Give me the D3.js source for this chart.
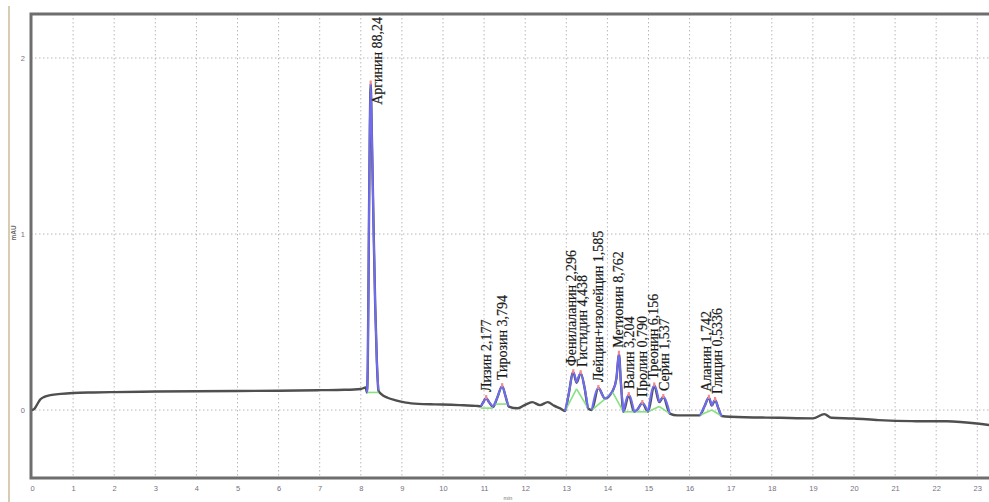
<!DOCTYPE html>
<html>
<head>
<meta charset="utf-8">
<script src="https://cdn.jsdelivr.net/npm/d3@7"></script>
<style>
  body { margin: 0; background: #fff; }
  svg { display: block; }
</style>
</head>
<body>
<svg id="chart"></svg>
<script>
// chromatogram trace, minutes / mAU
var times = [0.00, 0.05, 0.12, 0.20, 0.30, 0.45, 0.70, 1.00, 1.50, 2.00, 3.00, 4.00, 5.00, 6.00, 7.00, 7.60, 8.00, 8.12,
  8.15, 8.17, 8.20, 8.22, 8.24, 8.27, 8.31, 8.35, 8.39, 8.43,
  8.50, 8.65, 8.85, 9.10, 9.40, 9.80, 10.20, 10.50, 10.80, 10.92,
  10.98, 11.05, 11.12, 11.22, 11.32, 11.44, 11.52, 11.60,
  11.82, 12.00, 12.17, 12.36, 12.55, 12.70, 12.85, 12.97,
  13.05, 13.17, 13.25, 13.35, 13.45, 13.53, 13.62, 13.78, 13.94, 14.13, 14.22, 14.28, 14.33, 14.39,
  14.52, 14.65, 14.72, 14.85, 14.99, 15.14, 15.26, 15.36, 15.52,
  15.70, 16.00, 16.25, 16.36, 16.47, 16.54, 16.62, 16.70, 16.78,
  17.00, 18.20, 19.00, 19.28, 19.45, 20.00, 20.60, 21.40, 22.25, 23.05, 23.30];
var signal = [0.000, 0.005, 0.030, 0.060, 0.075, 0.085, 0.092, 0.097, 0.100, 0.102, 0.105, 0.107, 0.108, 0.110, 0.113, 0.115, 0.120, 0.128,
  0.100, 0.250, 1.100, 1.600, 1.855, 1.550, 1.050, 0.600, 0.280, 0.110,
  0.090, 0.070, 0.055, 0.042, 0.035, 0.032, 0.030, 0.027, 0.024, 0.022,
  0.045, 0.068, 0.045, 0.018, 0.070, 0.136, 0.080, 0.020,
  0.010, 0.030, 0.045, 0.028, 0.045, 0.025, 0.010, -0.005,
  0.080, 0.215, 0.155, 0.210, 0.120, 0.010, 0.000, 0.125, 0.066, 0.110, 0.180, 0.320, 0.150, -0.010,
  0.085, -0.010, 0.000, 0.040, -0.010, 0.140, 0.045, 0.074, -0.020,
  -0.030, -0.030, -0.030, 0.020, 0.070, 0.025, 0.057, 0.010, -0.034,
  -0.038, -0.044, -0.047, -0.023, -0.044, -0.048, -0.057, -0.063, -0.064, -0.078, -0.085];

// integrated peaks
var peakNames = ["Аргинин 88,24", "Лизин 2,177", "Тирозин 3,794", "Фенилаланин 2,296", "Гистидин 4,438",
  "Лейцин+изолейцин 1,585", "Метионин 8,762", "Валин 3,204", "Пролин 0,790", "Треонин 6,156",
  "Серин 1,537", "Аланин 1,742", "Глицин 0,5336"];
var peakApex  = [8.24, 11.05, 11.44, 13.17, 13.35, 13.78, 14.28, 14.52, 14.85, 15.14, 15.36, 16.47, 16.62];
var peakStart = [8.15, 10.92, 11.22, 12.97, 13.25, 13.62, 14.13, 14.39, 14.65, 14.99, 15.26, 16.25, 16.54];
var peakEnd   = [8.43, 11.22, 11.60, 13.25, 13.53, 14.13, 14.39, 14.65, 14.99, 15.26, 15.52, 16.54, 16.78];
var baseFrom  = [0.100, 0.011, 0.034, -0.005, 0.120, 0.000, 0.100, -0.010, -0.010, -0.010, 0.020, -0.030, 0.000];
var baseTo    = [0.100, 0.011, 0.034, 0.120, 0.010, 0.100, -0.010, -0.010, -0.010, 0.020, -0.020, 0.000, -0.034];

var xTicks = d3.range(0, 24);
var yTicks = [0, 1, 2];

var W = 989, H = 502;
var plotLeft = 31, plotTop = 14, plotBottom = 478;

var svg = d3.select("#chart").attr("width", W).attr("height", H);

var x = d3.scaleLinear().domain([0, 23.285]).range([32, W]);
var y = d3.scaleLinear().domain([-0.386, 2.25]).range([plotBottom, plotTop]);

// outer frame line of the scanned picture
svg.append("line").attr("x1", 9).attr("x2", 9).attr("y1", 6).attr("y2", H)
  .attr("stroke", "#cdbf9f").attr("stroke-width", 1.6);

// grid
var grid = svg.append("g").attr("stroke", "#b8b8b8").attr("stroke-width", 1).attr("stroke-dasharray", "1.5,2.5");
grid.selectAll(".vx").data(xTicks.filter(function(d){ return d > 0; })).enter().append("line")
  .attr("x1", function(d){ return x(d); }).attr("x2", function(d){ return x(d); })
  .attr("y1", plotTop).attr("y2", plotBottom);
grid.selectAll(".hy").data(yTicks).enter().append("line")
  .attr("x1", plotLeft).attr("x2", W)
  .attr("y1", function(d){ return y(d); }).attr("y2", function(d){ return y(d); });

// axes (labels only, the frame is drawn separately)
var xAxis = d3.axisBottom(x).tickValues(xTicks).tickSize(0).tickPadding(8).tickFormat(d3.format("d"));
var gx = svg.append("g").attr("transform", "translate(0," + plotBottom + ")").call(xAxis);
gx.select(".domain").remove();
gx.selectAll("text").attr("font-family", "Arial, 'Liberation Sans', sans-serif").attr("font-size", 7.5).attr("fill", "#77707f");

var yAxis = d3.axisLeft(y).tickValues(yTicks).tickSize(0).tickPadding(6).tickFormat(d3.format("d"));
var gy = svg.append("g").attr("transform", "translate(" + plotLeft + ",0)").call(yAxis);
gy.select(".domain").remove();
gy.selectAll("text").attr("font-family", "Arial, 'Liberation Sans', sans-serif").attr("font-size", 7.5).attr("fill", "#77707f");

svg.append("text").attr("transform", "translate(16,233) rotate(-90)")
  .attr("text-anchor", "middle").attr("font-family", "Arial, sans-serif")
  .attr("font-size", 6.5).attr("font-weight", "bold").attr("fill", "#666").text("mAU");
svg.append("text").attr("x", 508).attr("y", 500)
  .attr("text-anchor", "middle").attr("font-family", "Arial, sans-serif")
  .attr("font-size", 5.5).attr("fill", "#777").text("min");

// frame
svg.append("path")
  .attr("d", "M" + W + "," + plotTop + "H" + plotLeft + "V" + plotBottom + "H" + W)
  .attr("fill", "none").attr("stroke", "#6e6e6e").attr("stroke-width", 3);

var pts = times.map(function(t, i){ return [t, signal[i]]; });
var line = d3.line().curve(d3.curveMonotoneX)
  .x(function(d){ return x(d[0]); }).y(function(d){ return y(d[1]); });

// main trace
svg.append("path").datum(pts).attr("d", line)
  .attr("fill", "none").attr("stroke", "#4f4f4f").attr("stroke-width", 2.4)
  .attr("stroke-linejoin", "round");

// peak baselines
peakNames.forEach(function(name, i){
  svg.append("line")
    .attr("x1", x(peakStart[i])).attr("y1", y(baseFrom[i]))
    .attr("x2", x(peakEnd[i])).attr("y2", y(baseTo[i]))
    .attr("stroke", "#86e27e").attr("stroke-width", 1.6);
});

// peak outlines
peakNames.forEach(function(name, i){
  var seg = pts.filter(function(d){ return d[0] >= peakStart[i] - 1e-9 && d[0] <= peakEnd[i] + 1e-9; });
  svg.append("path").datum(seg).attr("d", line)
    .attr("fill", "none").attr("stroke", "#6f6cf2").attr("stroke-width", 2)
    .attr("stroke-linejoin", "round");
});

// apex marks and labels
function valueAt(t){
  var i = d3.bisectLeft(times, t);
  if (i <= 0) return signal[0];
  if (i >= times.length) return signal[signal.length - 1];
  var t0 = times[i - 1], t1 = times[i];
  return signal[i - 1] + (signal[i] - signal[i - 1]) * (t - t0) / (t1 - t0);
}

// label columns: start at the apex, pushed apart when too close
var minGap = 11;
var labelX = peakApex.map(function(t){ return x(t); });
for (var pass = 0; pass < 5; pass++) {
  for (var k = 1; k < labelX.length; k++) {
    var d = labelX[k] - labelX[k - 1];
    if (d < minGap) {
      var shift = (minGap - d) / 2;
      labelX[k - 1] -= shift;
      labelX[k] += shift;
    }
  }
}

peakNames.forEach(function(name, i){
  var px = x(peakApex[i]), py = y(valueAt(peakApex[i]));
  svg.append("line").attr("x1", px).attr("x2", px).attr("y1", py - 3).attr("y2", py + 1)
    .attr("stroke", "#f28a8a").attr("stroke-width", 2.2);

  var label = svg.append("text")
    .attr("font-family", "'Liberation Serif', 'Times New Roman', serif")
    .attr("font-size", 14).attr("fill", "#1a1a1a")
    .attr("stroke", "#1a1a1a").attr("stroke-width", 0.2)
    .attr("dy", "0.32em")
    .text(name);
  var len = label.node().getComputedTextLength();
  var by = py - 6, bx = labelX[i];
  // labels that would run past the top of the plot slide down beside the peak
  if (by - len < plotTop + 3) { by = plotTop + 3 + len; bx = px + 7; }
  label.attr("transform", "translate(" + bx + "," + by + ") rotate(-90)");
});
</script>
</body>
</html>
